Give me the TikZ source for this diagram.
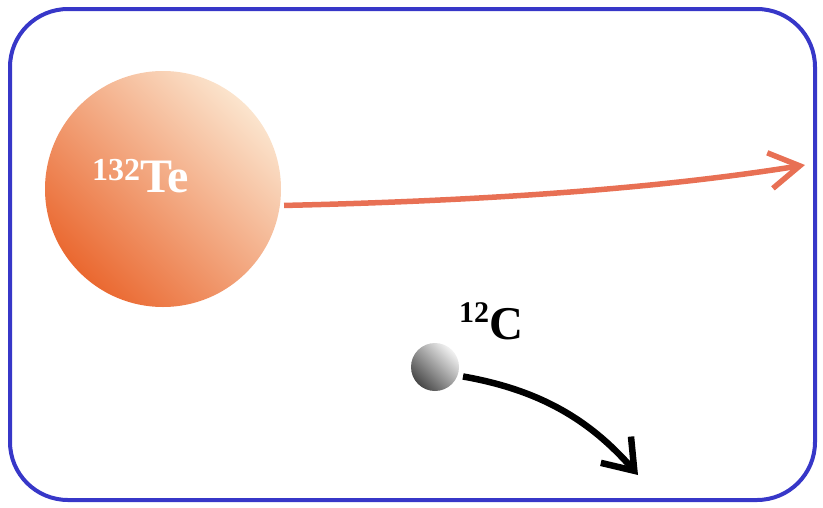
\documentclass[tikz,border=0pt]{standalone}
\usepackage{fontspec}
\setmainfont{Liberation Serif}
\usetikzlibrary{arrows.meta}
\definecolor{frameblue}{RGB}{55,55,200}
\definecolor{tedark}{RGB}{234,104,48}
\definecolor{telight}{RGB}{251,228,205}
\definecolor{tearrow}{RGB}{232,112,84}
\tikzset{
  frame/.style={draw=frameblue,line width=4pt,rounded corners=58pt},
  teball/.style={circle,minimum size=236pt,inner sep=0pt,shading=axis,left color=tedark,right color=telight,shading angle=135},
  cball/.style={circle,minimum size=48pt,inner sep=0pt,shading=axis,left color=black!72,right color=white!95!black,shading angle=135},
  telabel/.style={text=white,font=\bfseries\fontsize{48}{48}\selectfont,inner sep=0pt,anchor=base west},
  clabel/.style={text=black,font=\bfseries\fontsize{47}{47}\selectfont,inner sep=0pt,anchor=base west},
  tearrowstyle/.style={draw=tearrow,line width=5.5pt,-{Straight Barb[length=30pt,width=36pt,line width=5.5pt]}},
  carrowstyle/.style={draw=black,line width=6.5pt,-{Straight Barb[length=28pt,width=40pt,line width=6.5pt]}}
}
\begin{document}
\begin{tikzpicture}[x=1pt,y=-1pt]
\useasboundingbox (0,0) rectangle (823,507);
\node[frame,minimum width=805pt,minimum height=491pt,inner sep=0pt] (fr) at (412.5,254.5) {};
\node[teball] (te) at (163,189) {};
\node[telabel] (tel) at (92,192) {{\fontsize{32}{32}\selectfont\raisebox{12pt}{132}}Te};
\node[cball] (c) at (435,367) {};
\node[clabel] (cl) at (459,339) {{\fontsize{30}{30}\selectfont\raisebox{17pt}{12}}C};
\coordinate (teend) at (805,165);
\coordinate (cend) at (638,475);
\draw[tearrowstyle] (te.-8) ++(4,0) .. controls (520,200) and (680,185) .. (teend);
\draw[carrowstyle] (c.-18) ++(5,2) .. controls (540,390) and (590,420) .. (cend);
\end{tikzpicture}
\end{document}
